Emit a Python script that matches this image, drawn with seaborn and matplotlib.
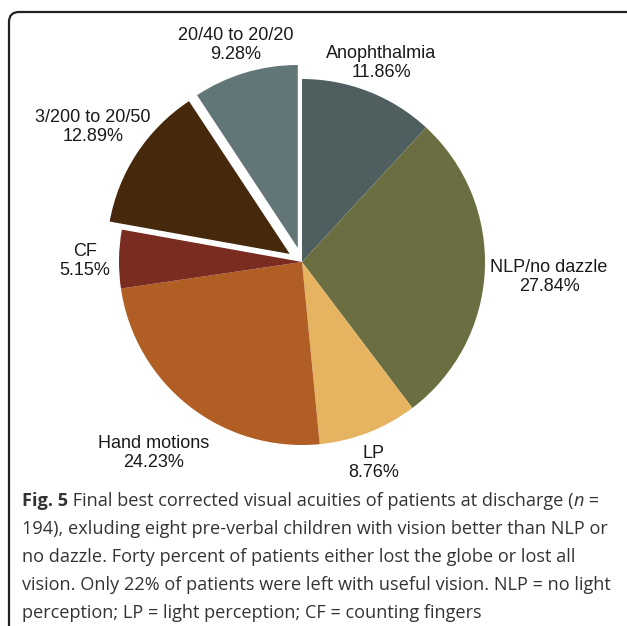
import matplotlib
matplotlib.use("Agg")
import matplotlib.pyplot as plt
import seaborn as sns
from matplotlib.patches import FancyBboxPatch

# ---- data ----
categories = ["Anophthalmia", "NLP/no dazzle", "LP", "Hand motions", "CF",
              "3/200 to 20/50", "20/40 to 20/20"]
percentages = [11.86, 27.84, 8.76, 24.23, 5.15, 12.89, 9.28]
exploded = [0, 0, 0, 0, 0, 1, 1]
colors = ["#4f5f60", "#6b6e40", "#e6b460", "#b05e24", "#7a2c20", "#46280c", "#627577"]

caption_first = [("Fig. 5", "bold", "normal"),
                 (" Final best corrected visual acuities of patients at discharge (", "normal", "normal"),
                 ("n", "normal", "italic"),
                 (" =", "normal", "normal")]
caption_lines = [
    "194), exluding eight pre-verbal children with vision better than NLP or",
    "no dazzle. Forty percent of patients either lost the globe or lost all",
    "vision. Only 22% of patients were left with useful vision. NLP = no light",
    "perception; LP = light perception; CF = counting fingers",
]

# ---- layout (pixels) ----
W, H, DPI = 627, 626, 100
cx, cy, R = 302, 262, 183  # pie centre / radius in pixels (from top)
label_px = [(381, 63), (549, 277), (374, 463), (154, 453), (85, 261), (93, 127), (236, 45)]

sns.set_theme(style="white")
plt.rcParams["font.family"] = ["Liberation Sans", "DejaVu Sans"]

fig = plt.figure(figsize=(W / DPI, H / DPI), dpi=DPI)
fig.patch.set_facecolor("white")

lim = 1.25
side = 2 * lim * R
ax = fig.add_axes([(cx - side / 2) / W, (H - cy - side / 2) / H, side / W, side / H])
ax.set_aspect("equal")
ax.axis("off")

palette = sns.color_palette(colors)
ax.pie(percentages, colors=palette, startangle=90, counterclock=False,
       explode=[0.08 * e for e in exploded], radius=1.0,
       wedgeprops=dict(linewidth=0), frame=False)
ax.set_xlim(-lim, lim)
ax.set_ylim(-lim, lim)

for cat, pct, (px, py) in zip(categories, percentages, label_px):
    xd = (px - cx) / R
    yd = (cy - py) / R
    ax.text(xd, yd, f"{cat}\n{pct:.2f}%", ha="center", va="center",
            multialignment="center", fontsize=13, color="#1a1a1a",
            linespacing=1.2, clip_on=False)

# border
border = FancyBboxPatch((9 / W, (H - 640) / H), (640 - 9) / W, (640 - 12) / H,
                        boxstyle="round,pad=0,rounding_size=0.016",
                        transform=fig.transFigure, fill=False,
                        edgecolor="#222222", linewidth=1.6, clip_on=False)
fig.add_artist(border)

# caption
cap_fs = 13.1
cap_col = "#333333"
cap_fam = ["Open Sans", "DejaVu Sans"]
renderer = fig.canvas.get_renderer()
x = 22
y0 = 499
for txt, weight, style in caption_first:
    t = fig.text(x / W, 1 - (y0 + 7) / H, txt, ha="left", va="baseline",
                 fontsize=cap_fs, color=cap_col, family=cap_fam,
                 weight=weight, style=style)
    bb = t.get_window_extent(renderer=renderer)
    x = bb.x1
for i, line in enumerate(caption_lines, start=1):
    y = y0 + i * 28
    fig.text(22 / W, 1 - (y + 7) / H, line, ha="left", va="baseline",
             fontsize=cap_fs, color=cap_col, family=cap_fam)

fig.savefig("out.png", dpi=DPI, facecolor="white")
